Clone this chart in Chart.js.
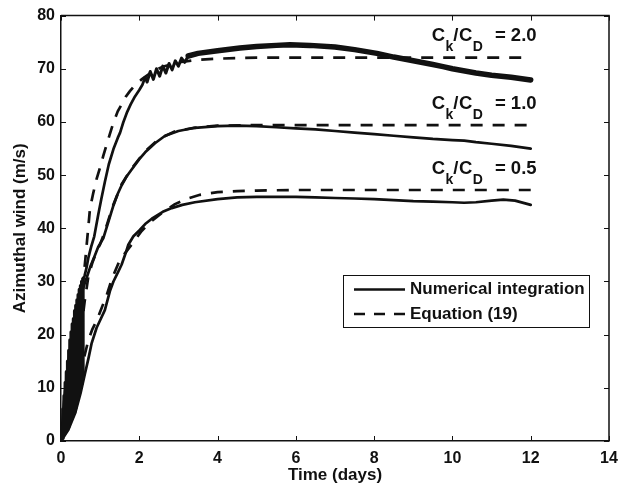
<!DOCTYPE html>
<html><head><meta charset="utf-8">
<script src="https://cdn.jsdelivr.net/npm/chart.js@4/dist/chart.umd.min.js"></script>
<style>html,body{margin:0;padding:0;background:#fff;}canvas{display:block;}</style>
</head><body>
<canvas id="c" width="632" height="490"></canvas>
<script>
// ---- data ----
const xTickValues = [0, 2, 4, 6, 8, 10, 12, 14];
const yTickValues = [0, 10, 20, 30, 40, 50, 60, 70, 80];
const seriesNames = ['Numerical integration', 'Equation (19)'];
const ratioNames = ['2.0', '1.0', '0.5'];

// Numerical integration, Ck/CD = 2.0 (strong early oscillation, then ripple)
const tNum20 = [0,0.02,0.035,0.05,0.065,0.08,0.095,0.11,0.125,0.14,0.155,0.17,0.185,0.2,0.215,0.23,0.245,0.26,0.275,0.29,0.305,0.32,0.335,0.35,0.365,0.38,0.395,0.41,0.425,0.44,0.455,0.47,0.485,0.5,0.515,0.53,0.545,0.56,
  0.6,0.65,0.7,0.77,0.85,0.95,1.03,1.12,1.22,1.34,1.45,1.51,1.59,1.68,1.78,1.89,2.0,2.08,2.15,2.2,2.28,2.36,2.44,2.52,2.6,2.68,2.76,2.84,2.92,3.0,3.08,3.16,3.25,3.5,4.0,4.57,5.0,5.5,5.85,6.36,7.0,7.5,8.07,8.5,9.0,9.5,9.76,10.0,10.6,11.0,11.5,12.0];
const vNum20 = [0,2.5,0.5,6,1,8.5,1.4,11,1.8,13,2.2,15,2.7,17,3.2,19,3.7,20.5,4.2,22,4.8,23,5.4,24.5,6.2,25.5,7,26.5,7.9,27.5,8.8,28.5,9.8,29.2,10.8,30,11.8,30.5,
  31,32.5,34.5,36.5,38.5,42.5,45.5,48.7,52,54.9,57,58,59.9,61.7,63.3,64.8,66,67,68.4,67.5,69.5,68,70,68.6,70.5,69.2,71,69.8,71.5,70.5,72,71.2,72.4,72.9,73.4,73.9,74.2,74.4,74.5,74.4,74.1,73.6,72.9,72.2,71.5,70.8,70.4,70.0,69.2,68.8,68.4,67.9];
// Equation (19), Ck/CD = 2.0
const tEq20 = [0,0.1,0.2,0.3,0.4,0.45,0.5,0.56,0.62,0.68,0.74,0.82,0.91,1.0,1.08,1.2,1.34,1.45,1.55,1.65,1.76,1.9,2.06,2.3,2.6,3.0,3.5,4.0,4.5,5.0,12.0];
const vEq20 = [0,3,7,11,16.5,20,24,29.5,34,38.8,43.7,46.5,49.3,51.5,53.6,56.6,59.9,62,63.3,64.7,65.8,67,68,69.3,70.4,71.2,71.7,71.9,72.0,72.1,72.1];

// Numerical integration, Ck/CD = 1.0
const tNum10 = [0,0.05,0.1,0.2,0.3,0.4,0.5,0.6,0.66,0.75,0.85,0.95,1.08,1.21,1.34,1.45,1.55,1.68,1.81,2.0,2.15,2.4,2.66,3.0,3.42,4.0,4.5,5.0,5.5,6.0,6.5,7.0,7.5,8.0,8.5,9.0,9.5,10.0,10.3,10.6,11.0,11.5,12.0];
const vNum10 = [0,5,9,15.5,20.5,24,27,29.5,30.8,32.8,34.6,36.5,38.1,41.2,44.3,46.5,48.1,49.8,51.1,53,54.3,56,57.4,58.3,58.9,59.2,59.3,59.2,59.0,58.8,58.6,58.3,58.0,57.7,57.4,57.1,56.8,56.6,56.5,56.2,55.9,55.5,55.0];
// Equation (19), Ck/CD = 1.0
const tEq10 = [0,0.2,0.4,0.5,0.6,0.7,0.8,0.9,1.0,1.1,1.2,1.34,1.55,1.81,2.15,2.5,2.9,3.4,4.0,5.0,12.0];
const vEq10 = [0,6,14,20,26,31,33.5,35.5,37,39,41.3,44.5,48.3,51.3,54.5,56.8,58.2,58.9,59.3,59.4,59.4];

// Numerical integration, Ck/CD = 0.5
const tNum05 = [0,0.18,0.36,0.5,0.61,0.7,0.78,0.91,1.0,1.12,1.25,1.34,1.46,1.55,1.65,1.72,1.85,2.0,2.15,2.32,2.6,2.83,3.1,3.42,4.0,4.5,5.0,5.5,6.0,6.5,7.0,7.5,8.0,8.5,9.0,9.5,10.0,10.3,10.6,11.0,11.3,11.6,12.0];
const vNum05 = [0,2,5.2,9,12.6,15.5,18.3,21.3,22.7,24.6,28.2,30,31.8,33.2,35.3,36.9,38.5,39.6,40.8,41.8,43.1,43.8,44.4,44.9,45.5,45.8,45.9,45.9,45.9,45.8,45.7,45.6,45.5,45.3,45.1,45.0,44.9,44.8,44.9,45.2,45.4,45.2,44.4];
// Equation (19), Ck/CD = 0.5
const tEq05 = [0,0.15,0.3,0.45,0.6,0.7,0.8,0.91,1.08,1.17,1.3,1.5,1.81,2.06,2.3,2.6,2.9,3.2,3.55,4.0,4.5,5.0,6.0,12.0];
const vEq05 = [0,2.5,6,11,16,19,21,22.6,25.8,27.5,30.5,34,37,39.5,41.3,43,44.5,45.5,46.3,46.8,47.0,47.1,47.2,47.2];

// ---- helpers ----
const FONT = "'Liberation Sans', Arial, Helvetica, sans-serif";
const pts = (t, v) => t.map((x, i) => ({x: x, y: v[i]}));
const LW = 2.7;
const DASH = [12, 10];

function solidSet(t, v, thick) {
  const ds = {label: seriesNames[0], data: pts(t, v), borderColor: '#111', borderWidth: LW,
    pointRadius: 0, tension: 0, fill: false, borderJoinStyle: 'round', borderCapStyle: 'round'};
  if (thick) {
    ds.segment = { borderWidth: c => {
      const x = c.p0.parsed.x;
      if (x < 0.56) return 3.5;
      if (x >= 3.2) return 5.5;
      if (x >= 2.15) return 3;
      return undefined;
    } };
  }
  return ds;
}
function dashSet(t, v) {
  return {label: seriesNames[1], data: pts(t, v), borderColor: '#111', borderWidth: LW,
    borderDash: DASH, pointRadius: 0, tension: 0, fill: false, borderCapStyle: 'butt'};
}

const decor = {
  id: 'decor',
  afterDraw(chart) {
    const ctx = chart.ctx, a = chart.chartArea;
    const xs = chart.scales.x, ys = chart.scales.y;
    ctx.save();
    ctx.strokeStyle = '#111';
    // box top/right
    ctx.lineWidth = 1.5;
    ctx.beginPath();
    ctx.moveTo(a.left, a.top); ctx.lineTo(a.right, a.top); ctx.lineTo(a.right, a.bottom);
    ctx.stroke();
    // inward ticks
    ctx.lineWidth = 1;
    const L = 5;
    ctx.beginPath();
    xTickValues.forEach(v => {
      const px = Math.round(xs.getPixelForValue(v)) + 0.5;
      ctx.moveTo(px, a.bottom); ctx.lineTo(px, a.bottom - L);
      ctx.moveTo(px, a.top); ctx.lineTo(px, a.top + L);
    });
    yTickValues.forEach(v => {
      const py = Math.round(ys.getPixelForValue(v)) + 0.5;
      ctx.moveTo(a.left, py); ctx.lineTo(a.left + L, py);
      ctx.moveTo(a.right, py); ctx.lineTo(a.right - L, py);
    });
    ctx.stroke();

    // Ck/CD annotations
    const anchors = [[9.47, 75.2], [9.47, 62.5], [9.47, 50.3]];
    ctx.fillStyle = '#111';
    ctx.textBaseline = 'alphabetic';
    ratioNames.forEach((r, i) => {
      let x = xs.getPixelForValue(anchors[i][0]);
      const y = ys.getPixelForValue(anchors[i][1]);
      const big = 'bold 18.5px ' + FONT, small = 'bold 14px ' + FONT;
      ctx.textAlign = 'left';
      ctx.font = big; ctx.fillText('C', x, y); x += ctx.measureText('C').width + 0.5;
      ctx.font = small; ctx.fillText('k', x, y + 10); x += ctx.measureText('k').width;
      ctx.font = big; ctx.fillText('/', x, y); x += ctx.measureText('/').width + 0.5;
      ctx.fillText('C', x, y); x += ctx.measureText('C').width + 0.5;
      ctx.font = small; ctx.fillText('D', x, y + 10);
      ctx.font = big; ctx.textAlign = 'right';
      ctx.fillText('= ' + r, xs.getPixelForValue(12.15), y);
    });

    // legend box
    const bx = 343, by = 275, bw = 246, bh = 52;
    ctx.fillStyle = '#fff';
    ctx.fillRect(bx, by, bw, bh);
    ctx.lineWidth = 1;
    ctx.strokeStyle = '#111';
    ctx.strokeRect(bx + 0.5, by + 0.5, bw, bh);
    ctx.lineWidth = LW;
    ctx.beginPath(); ctx.moveTo(354, 289.5); ctx.lineTo(405, 289.5); ctx.stroke();
    ctx.setLineDash([11, 9]);
    ctx.beginPath(); ctx.moveTo(354, 314); ctx.lineTo(406, 314); ctx.stroke();
    ctx.setLineDash([]);
    ctx.fillStyle = '#111';
    ctx.font = 'bold 17px ' + FONT;
    ctx.textAlign = 'left'; ctx.textBaseline = 'middle';
    ctx.fillText(seriesNames[0], 410, 289.5);
    ctx.fillText(seriesNames[1], 410, 314);
    ctx.restore();
  }
};

new Chart(document.getElementById('c'), {
  type: 'line',
  data: {
    datasets: [
      solidSet(tNum20, vNum20, true), dashSet(tEq20, vEq20),
      solidSet(tNum10, vNum10, false), dashSet(tEq10, vEq10),
      solidSet(tNum05, vNum05, false), dashSet(tEq05, vEq05)
    ]
  },
  options: {
    responsive: false, animation: false, devicePixelRatio: 1,
    layout: {padding: {top: 12, right: 23, left: 0, bottom: 0}},
    plugins: {legend: {display: false}, tooltip: {enabled: false}},
    scales: {
      x: {
        type: 'linear', min: 0, max: 14,
        afterBuildTicks: s => { s.ticks = xTickValues.map(v => ({value: v})); },
        afterFit: s => { s.height = 49; },
        grid: {display: false, drawTicks: false},
        border: {display: true, color: '#111', width: 1.5},
        ticks: {color: '#111', padding: 8, font: {family: FONT, size: 16, weight: 'bold'}, maxRotation: 0},
        title: {display: true, text: 'Time (days)', color: '#111', padding: {top: 0, bottom: 4},
          font: {family: FONT, size: 17, weight: 'bold'}}
      },
      y: {
        type: 'linear', min: 0, max: 80,
        afterBuildTicks: s => { s.ticks = yTickValues.map(v => ({value: v})); },
        afterFit: s => { s.width = 61; },
        grid: {display: false, drawTicks: false},
        border: {display: true, color: '#111', width: 1.5},
        ticks: {color: '#111', padding: 6, font: {family: FONT, size: 16, weight: 'bold'}},
        title: {display: true, text: 'Azimuthal wind (m/s)', color: '#111', padding: {top: 10, bottom: 0},
          font: {family: FONT, size: 17, weight: 'bold'}}
      }
    }
  },
  plugins: [decor]
});
</script>
</body></html>
